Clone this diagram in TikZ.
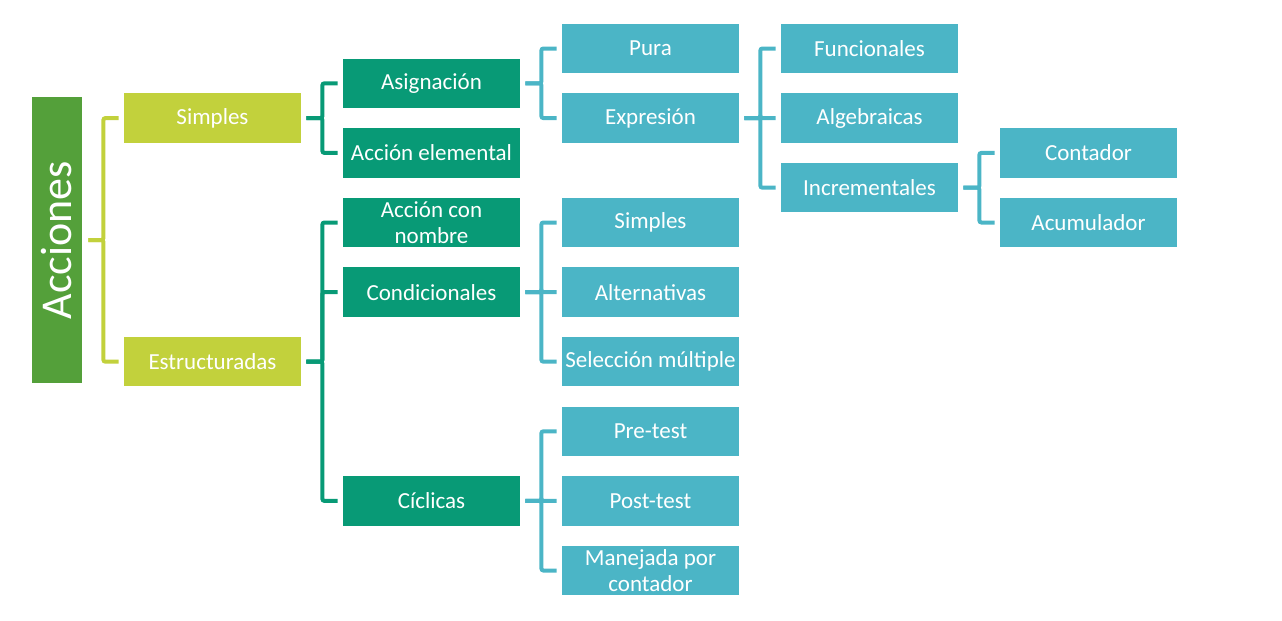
\documentclass[tikz,border=0pt]{standalone}
\usepackage{fontspec}
\setmainfont{Carlito}
\usepackage{graphicx}
\usepackage{tikz}

\definecolor{verdeacc}{RGB}{84,160,58}
\definecolor{lima}{RGB}{194,209,60}
\definecolor{verdeazul}{RGB}{8,154,118}
\definecolor{celeste}{RGB}{75,181,198}

\tikzset{
  caja/.style={rectangle, inner sep=0pt, minimum width=88.5pt, minimum height=24.75pt,
    align=center, text=white, font=\fontsize{11.5}{13}\selectfont},
  nivuno/.style={caja, fill=lima},
  nivdos/.style={caja, fill=verdeazul},
  nivtres/.style={caja, fill=celeste},
  enlace/.style={line width=2pt, rounded corners=1pt},
}

\begin{document}
\begin{tikzpicture}[x=0.5pt, y=-0.5pt]
            \useasboundingbox (0,0) rectangle (1282,621);

            % raiz
            \node[rectangle, fill=verdeacc, minimum width=25pt, minimum height=143pt, inner sep=0pt,
              text=white, font=\fontsize{22}{24}\selectfont] (acc) at (57, 240) {\rotatebox{90}{Acciones}};

            % primer nivel
            \node[nivuno] (simp) at (212.5, 118.1) {Simples};
            \node[nivuno] (estr) at (212.5, 361.7) {Estructuradas};

            % segundo nivel
            \node[nivdos] (asig) at (431.5, 83.3) {Asignación};
            \node[nivdos] (elem) at (431.5, 152.9) {Acción elemental};
            \node[nivdos] (nomb) at (431.5, 222.5) {Acción con\\nombre};
            \node[nivdos] (cond) at (431.5, 292.1) {Condicionales};
            \node[nivdos] (cicl) at (431.5, 500.9) {Cíclicas};

            % tercer nivel
            \node[nivtres] (pura) at (650.5, 48.5) {Pura};
            \node[nivtres] (expr) at (650.5, 118.1) {Expresión};
            \node[nivtres] (csim) at (650.5, 222.5) {Simples};
            \node[nivtres] (calt) at (650.5, 292.1) {Alternativas};
            \node[nivtres] (csel) at (650.5, 361.7) {Selección múltiple};
            \node[nivtres] (pre) at (650.5, 431.3) {Pre-test};
            \node[nivtres] (post) at (650.5, 500.9) {Post-test};
            \node[nivtres] (manj) at (650.5, 570.5) {Manejada por\\contador};

            % cuarto y quinto nivel
            \node[nivtres] (func) at (869.5, 48.5) {Funcionales};
            \node[nivtres] (alge) at (869.5, 118.1) {Algebraicas};
            \node[nivtres] (incr) at (869.5, 187.7) {Incrementales};
            \node[nivtres] (cont) at (1088.5, 152.9) {Contador};
            \node[nivtres] (acum) at (1088.5, 222.5) {Acumulador};

            % llaves
            \foreach \c in {simp, estr}
              \draw[enlace, lima] ([xshift=3pt]acc.east) -- ++(7.5pt,0) |- ([xshift=-2.5pt]\c.west);
            \foreach \c in {asig, elem}
              \draw[enlace, verdeazul] ([xshift=2.5pt]simp.east) -- ++(8pt,0) |- ([xshift=-2.5pt]\c.west);
            \foreach \c in {nomb, cond, cicl}
              \draw[enlace, verdeazul] ([xshift=2.5pt]estr.east) -- ++(8pt,0) |- ([xshift=-2.5pt]\c.west);
            \foreach \c in {pura, expr}
              \draw[enlace, celeste] ([xshift=2.5pt]asig.east) -- ++(8pt,0) |- ([xshift=-2.5pt]\c.west);
            \foreach \c in {csim, calt, csel}
              \draw[enlace, celeste] ([xshift=2.5pt]cond.east) -- ++(8pt,0) |- ([xshift=-2.5pt]\c.west);
            \foreach \c in {pre, post, manj}
              \draw[enlace, celeste] ([xshift=2.5pt]cicl.east) -- ++(8pt,0) |- ([xshift=-2.5pt]\c.west);
            \foreach \c in {func, alge, incr}
              \draw[enlace, celeste] ([xshift=2.5pt]expr.east) -- ++(8pt,0) |- ([xshift=-2.5pt]\c.west);
            \foreach \c in {cont, acum}
              \draw[enlace, celeste] ([xshift=2.5pt]incr.east) -- ++(8pt,0) |- ([xshift=-2.5pt]\c.west);
        \end{tikzpicture}
\end{document}
